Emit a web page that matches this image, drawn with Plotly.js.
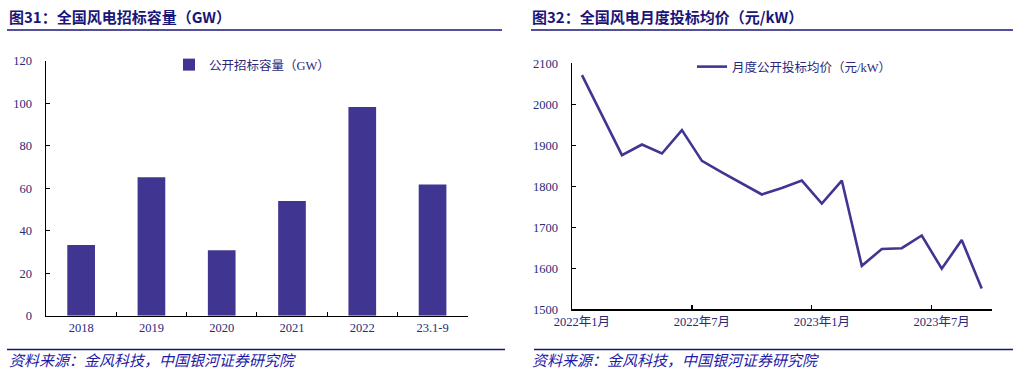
<!DOCTYPE html>
<html>
<head>
<meta charset="utf-8">
<script src="https://cdn.plot.ly/plotly-3.0.1.min.js"></script>
<style>html,body{margin:0;padding:0;background:#fff;}#chart{width:1013px;height:374px;}</style>
</head>
<body>
<div id="chart"></div>
<script>
// ---- Data ----
const barCategories = ["2018", "2019", "2020", "2021", "2022", "23.1-9"];
const barValues = [33.3, 65.1, 30.8, 54.0, 98.2, 61.7];
const barSeriesName = "公开招标容量（GW）";

const months = ["2022-01","2022-02","2022-03","2022-04","2022-05","2022-06","2022-07","2022-08","2022-09","2022-10","2022-11","2022-12",
                "2023-01","2023-02","2023-03","2023-04","2023-05","2023-06","2023-07","2023-08","2023-09"];
const priceValues = [2071, 1974, 1876, 1902, 1880, 1937, 1862, 1834, 1808, 1780, 1796, 1814,
                     1758, 1814, 1606, 1647, 1649, 1680, 1599, 1669, 1551];
const lineSeriesName = "月度公开投标均价（元/kW）";
const monthTickVals = ["2022-01", "2022-07", "2023-01", "2023-07"];
const monthTickText = ["2022年1月", "2022年7月", "2023年1月", "2023年7月"];
const monthBoundaryTicks = [5.5, 11.5, 17.5];

const title1 = "图31：全国风电招标容量（GW）";
const title2 = "图32：全国风电月度投标均价（元/kW）";
const sourceText = "资料来源：金风科技，中国银河证券研究院";

// ---- Style ----
const W = 1013, H = 374;
const navy = "#1a1578";
const barColor = "#413592";
const tickColor = "#2b2a7a";
const serif = "Liberation Serif, Noto Sans CJK SC, serif";
const fx = px => px / W;
const fy = py => 1 - py / H;

const traces = [
  {type: "bar", x: barCategories, y: barValues, name: barSeriesName,
   marker: {color: barColor}, xaxis: "x", yaxis: "y", legend: "legend", showlegend: true},
  {type: "scatter", mode: "lines", x: months.map((m, i) => i), y: priceValues, name: lineSeriesName,
   line: {color: barColor, width: 2.6}, xaxis: "x2", yaxis: "y2", legend: "legend2", showlegend: true},
  // invisible helper trace for boundary tick axis
  {type: "scatter", mode: "none", x: [0], y: [1500], xaxis: "x3", yaxis: "y2", showlegend: false, hoverinfo: "skip"}
];

const tickFont = {family: serif, size: 12.5, color: tickColor};

const layout = {
  width: W, height: H,
  margin: {l: 0, r: 0, t: 0, b: 0},
  paper_bgcolor: "#fff", plot_bgcolor: "rgba(0,0,0,0)",
  bargap: 0.606,
  showlegend: true,
  xaxis: {domain: [fx(46), fx(467.7)], anchor: "y", type: "category",
    showline: true, linecolor: "#000", linewidth: 1.5, showgrid: false, zeroline: false,
    ticks: "inside", ticklen: 4, tickcolor: "#000", tickwidth: 1.2, tickson: "boundaries",
    tickfont: tickFont, fixedrange: true},
  yaxis: {domain: [fy(315.7), fy(60.7)], anchor: "x", range: [0, 120], dtick: 20,
    showline: true, linecolor: "#000", linewidth: 1.5, showgrid: false, zeroline: false,
    ticks: "inside", ticklen: 4, tickcolor: "#000", tickwidth: 1.2,
    tickfont: tickFont, ticklabelstandoff: 10, fixedrange: true},
  xaxis2: {domain: [fx(572), fx(991.7)], anchor: "y2", type: "linear", range: [-0.5, 20.5],
    tickmode: "array", tickvals: monthTickVals.map(v => months.indexOf(v)), ticktext: monthTickText,
    showline: true, linecolor: "#000", linewidth: 1.5, showgrid: false, zeroline: false,
    ticks: "", tickfont: {family: serif, size: 12.5, color: tickColor}, fixedrange: true},
  xaxis3: {domain: [fx(572), fx(991.7)], anchor: "y2", overlaying: "x2", type: "linear", range: [-0.5, 20.5],
    tickmode: "array", tickvals: monthBoundaryTicks, showticklabels: false,
    showline: false, showgrid: false, zeroline: false,
    ticks: "inside", ticklen: 4, tickcolor: "#000", tickwidth: 1.2, fixedrange: true},
  yaxis2: {domain: [fy(309.3), fy(63.3)], anchor: "x2", range: [1500, 2100], dtick: 100,
    showline: true, linecolor: "#000", linewidth: 1.5, showgrid: false, zeroline: false,
    ticks: "inside", ticklen: 4, tickcolor: "#000", tickwidth: 1.2,
    tickfont: tickFont, ticklabelstandoff: 10, fixedrange: true},
  legend: {x: fx(169), y: fy(50), xanchor: "left", yanchor: "top", bgcolor: "rgba(0,0,0,0)",
    font: {family: serif, size: 12.5, color: tickColor}, itemwidth: 30},
  legend2: {x: fx(692), y: fy(52), xanchor: "left", yanchor: "top", bgcolor: "rgba(0,0,0,0)",
    font: {family: serif, size: 12.5, color: tickColor}, itemwidth: 30},
  annotations: [
    {text: "<b>" + title1 + "</b>", xref: "paper", yref: "paper", x: fx(7), y: fy(17), xanchor: "left", yanchor: "middle",
     showarrow: false, font: {family: "Noto Sans CJK SC, sans-serif", size: 15, color: navy}},
    {text: "<b>" + title2 + "</b>", xref: "paper", yref: "paper", x: fx(530), y: fy(17), xanchor: "left", yanchor: "middle",
     showarrow: false, font: {family: "Noto Sans CJK SC, sans-serif", size: 15, color: navy}},
    {text: "<i>" + sourceText + "</i>", xref: "paper", yref: "paper", x: fx(7), y: fy(359.5), xanchor: "left", yanchor: "middle",
     showarrow: false, font: {family: "Noto Sans CJK SC, sans-serif", size: 15, color: "#1f1ba8"}},
    {text: "<i>" + sourceText + "</i>", xref: "paper", yref: "paper", x: fx(530), y: fy(359.5), xanchor: "left", yanchor: "middle",
     showarrow: false, font: {family: "Noto Sans CJK SC, sans-serif", size: 15, color: "#1f1ba8"}}
  ],
  shapes: [
    {type: "line", xref: "paper", yref: "paper", x0: fx(7), x1: fx(502), y0: fy(30), y1: fy(30), line: {color: navy, width: 1.5}},
    {type: "line", xref: "paper", yref: "paper", x0: fx(531), x1: 1, y0: fy(30), y1: fy(30), line: {color: navy, width: 1.5}},
    {type: "line", xref: "paper", yref: "paper", x0: fx(7), x1: fx(505), y0: fy(349.5), y1: fy(349.5), line: {color: navy, width: 1.5}},
    {type: "line", xref: "paper", yref: "paper", x0: fx(534), x1: 1, y0: fy(349.5), y1: fy(349.5), line: {color: navy, width: 1.5}}
  ]
};

Plotly.newPlot("chart", traces, layout, {displayModeBar: false, staticPlot: true});
</script>
</body>
</html>
